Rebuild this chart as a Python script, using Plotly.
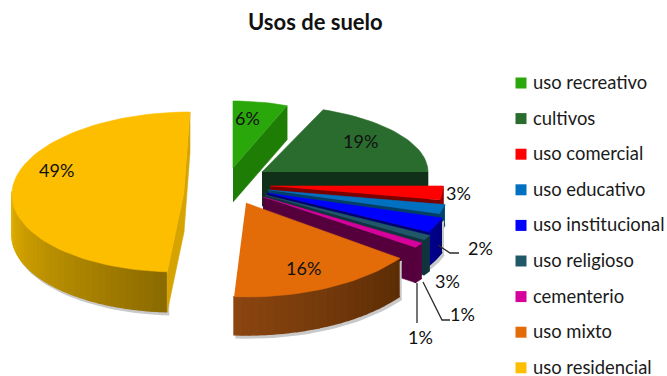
import math
import plotly.graph_objects as go

title = "Usos de suelo"
categories = ["uso recreativo", "cultivos", "uso comercial", "uso educativo", "uso institucional",
              "uso religioso", "cementerio", "uso mixto", "uso residencial"]
values = [6, 19, 3, 2, 3, 1, 1, 16, 49]
colors = ["#2AA70A", "#2A6B2E", "#FF0000", "#0070C0", "#0000FF", "#215868", "#D6009A", "#E36C09", "#FDBE00"]

# drawing geometry per slice (exploded centre, radii, depth) in page pixels
cx = [233, 262, 270, 268, 267, 265, 263, 246, 184]
cy = [168, 172, 186, 190, 193, 195, 197, 203, 192]
rx = [147, 166, 173, 180, 184, 188, 188, 190, 172]
ry = [67, 67, 75, 78, 81, 84, 86, 94, 80]
depth = [34, 34, 20, 20, 34, 35, 35, 38, 40]
skew = [0, 0, 0, 0, 0, 0, 0, 0, -0.075]
wall_start = ["#1E7D05", "#10301A", "#8A0000", "#00456F", "#00007A", "#12343E", "#5A0040", "#5C2D05", "#8C6B00"]
wall_end = ["#1E7D05", "#10301A", "#8A0000", "#00456F", "#000090", "#12343E", "#5A0040", "#8A4510", "#E3B000"]
cut_color = ["#1E7D05", "#10301A", "#7A0000", "#003F66", "#00006E", "#12343E", "#55003D", "#5C2D05", "#D6A400"]
cut_sides = [("end",), ("end",), ("end",), ("end",), ("end",), ("end",), ("end",), (), ("start", "end")]

label_x = [247, 360, 458, 480, 447, 462, 420, 303, 56]
label_y = [118, 141, 193, 248, 281, 314, 337, 268, 170]
leader_x = [None, None, None, [438, 450, 459], None, [423, 442, 450], [417, 417], None, None]
leader_y = [None, None, None, [245, 253, 253], None, [282, 320, 320], [283, 323], None, None]

key_x = 521
text_x = 531
key_y0 = 83
key_step = 35.6


def mix(a, b, f):
    ca = [int(a[i:i + 2], 16) for i in (1, 3, 5)]
    cb = [int(b[i:i + 2], 16) for i in (1, 3, 5)]
    return "#%02X%02X%02X" % tuple(round(p + (q - p) * f) for p, q in zip(ca, cb))


fig = go.Figure()


def poly(xs, ys, color, lw=0.6):
    fig.add_trace(go.Scatter(x=xs, y=ys, mode="lines", fill="toself", fillcolor=color,
                             line=dict(color=color, width=lw), hoverinfo="skip", showlegend=False))


total = sum(values)
cum = 0
for i, v in enumerate(values):
    a0 = cum / total * 2 * math.pi
    a1 = (cum + v) / total * 2 * math.pi
    cum += v
    n = max(6, int(v * 1.5))
    angs = [a0 + (a1 - a0) * k / n for k in range(n + 1)]

    def pt(a, r=1.0, d=0):
        y = -ry[i] * r * math.cos(a)
        return cx[i] + rx[i] * r * math.sin(a) + skew[i] * y, cy[i] + y + d

    # front wall segments
    front = [a for a in angs if math.cos(a) <= 0.02]
    if len(front) > 1:
        if i in (4, 7, 8):
            sx = [pt(a)[0] + 2 for a in front] + [pt(a, d=depth[i])[0] + 2 for a in reversed(front)]
            sy = [pt(a)[1] + 3 for a in front] + [pt(a, d=depth[i])[1] + 3 for a in reversed(front)]
            poly(sx, sy, "#C9C9C9", 1.5)
        for k in range(len(front) - 1):
            p = front[k]
            q = front[k + 1]
            c = mix(wall_start[i], wall_end[i], k / max(1, len(front) - 2))
            poly([pt(p)[0], pt(q)[0], pt(q, d=depth[i])[0], pt(p, d=depth[i])[0]],
                 [pt(p)[1], pt(q)[1], pt(q, d=depth[i])[1], pt(p, d=depth[i])[1]], c, 1.5)
    # cut walls
    for side in cut_sides[i]:
        a = a1 if side == "end" else a0
        ox, oy = pt(a)
        poly([cx[i], ox, ox, cx[i]], [cy[i], oy, oy + depth[i], cy[i] + depth[i]], cut_color[i])
    # top surface
    tx = [cx[i]] + [pt(a)[0] for a in angs]
    ty = [cy[i]] + [pt(a)[1] for a in angs]
    poly(tx, ty, colors[i])

for i in range(len(values)):
    if leader_x[i]:
        fig.add_trace(go.Scatter(x=leader_x[i], y=leader_y[i], mode="lines",
                                 line=dict(color="#2B2B2B", width=1.3), hoverinfo="skip", showlegend=False))

# legend keys
for i, name in enumerate(categories):
    fig.add_trace(go.Scatter(x=[key_x], y=[key_y0 + key_step * i], mode="markers", name=name,
                             marker=dict(symbol="square", size=11, color=colors[i]),
                             hovertemplate=name + ": %{customdata}%<extra></extra>",
                             customdata=[values[i]], showlegend=False))

ann = [dict(x=text_x, y=key_y0 - 1 + key_step * i, text=name, xanchor="left", yanchor="middle", showarrow=False,
            xref="x", yref="y", font=dict(family="Lato", size=18.4, color="#1A1A1A"))
       for i, name in enumerate(categories)]
ann += [dict(x=label_x[i], y=label_y[i], text=f"{values[i]}%", xanchor="center", yanchor="middle", showarrow=False,
             xref="x", yref="y", font=dict(family="Lato", size=18, color="#111111"))
        for i in range(len(values))]
ann.append(dict(x=315, y=21, text=f"<b>{title}</b>", xanchor="center", yanchor="middle", showarrow=False,
                xref="x", yref="y", font=dict(family="Lato", size=22, color="#111111")))

fig.update_layout(width=667, height=376, margin=dict(l=0, r=0, t=0, b=0), paper_bgcolor="white",
                  plot_bgcolor="white", showlegend=False, annotations=ann,
                  xaxis=dict(range=[0, 667], visible=False, fixedrange=True),
                  yaxis=dict(range=[376, 0], visible=False, fixedrange=True))
fig.write_html("out.html", config=dict(displayModeBar=False),
               post_script="document.body.style.margin='0';document.documentElement.style.overflow='hidden';")
